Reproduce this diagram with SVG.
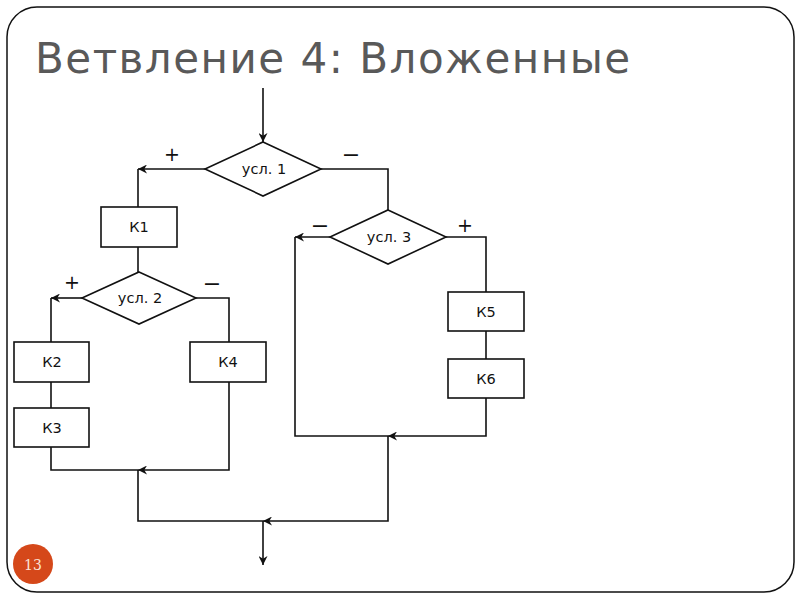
<svg xmlns="http://www.w3.org/2000/svg" width="800" height="600" viewBox="0 0 800 600">
<style>
.box{fill:#fff;stroke:#111;stroke-width:1.6}
.ln{fill:none;stroke:#111;stroke-width:1.6}
.lbl{font-family:"DejaVu Sans",sans-serif;font-size:14.5px;fill:#111;text-anchor:middle}
.sg{font-family:"DejaVu Sans",sans-serif;font-size:19px;fill:#111;text-anchor:middle}
.mn{font-family:"Liberation Sans",sans-serif;font-size:25px;fill:#111;text-anchor:middle}
</style>
<defs>
<marker id="ah" viewBox="0 0 10 10" refX="10" refY="5" markerWidth="9" markerHeight="9" markerUnits="userSpaceOnUse" orient="auto">
<path d="M0,0 L10,5 L0,10 L3,5 Z" fill="#111"/>
</marker>
</defs>
<rect x="0" y="0" width="800" height="600" fill="#fff"/>
<rect x="7" y="7" width="787" height="585" rx="30" ry="30" fill="#fff" stroke="#111" stroke-width="1.5"/>
<text x="35" y="73" font-family="DejaVu Sans, sans-serif" font-size="42" letter-spacing="1.5" fill="#595959">Ветвление 4: Вложенные</text>

<g id="connectors">
<path class="ln" d="M263,88 V142" marker-end="url(#ah)"/>
<path class="ln" d="M205,169 H138" marker-end="url(#ah)"/>
<path class="ln" d="M138,169 V207"/>
<path class="ln" d="M321,169 H388 V210"/>
<path class="ln" d="M138,247 V272"/>
<path class="ln" d="M82,298 H51" marker-end="url(#ah)"/>
<path class="ln" d="M51,298 V342"/>
<path class="ln" d="M196,298 H229 V342"/>
<path class="ln" d="M51,382 V408"/>
<path class="ln" d="M51,447 V470 H138"/>
<path class="ln" d="M229,382 V470 H138" marker-end="url(#ah)"/>
<path class="ln" d="M330,237 H295" marker-end="url(#ah)"/>
<path class="ln" d="M295,237 V436 H388"/>
<path class="ln" d="M446,237 H486 V292"/>
<path class="ln" d="M486,331 V359"/>
<path class="ln" d="M486,398 V436 H388" marker-end="url(#ah)"/>
<path class="ln" d="M138,470 V521 H263"/>
<path class="ln" d="M388,436 V521 H263" marker-end="url(#ah)"/>
<path class="ln" d="M263,521 V565" marker-end="url(#ah)"/>
</g>

<g id="cond1"><polygon class="box" points="263,142 321,169 263,196 205,169"/><text class="lbl" x="264" y="174">усл. 1</text></g>
<g id="cond3"><polygon class="box" points="388,210 446,237 388,264 330,237"/><text class="lbl" x="389" y="242">усл. 3</text></g>
<g id="cond2"><polygon class="box" points="139,272 196,298 139,324 82,298"/><text class="lbl" x="140" y="303">усл. 2</text></g>
<g id="k1"><rect class="box" x="101" y="207" width="76" height="40"/><text class="lbl" x="139" y="232">К1</text></g>
<g id="k2"><rect class="box" x="14" y="342" width="75" height="40"/><text class="lbl" x="52" y="367">К2</text></g>
<g id="k3"><rect class="box" x="14" y="408" width="75" height="39"/><text class="lbl" x="52" y="433">К3</text></g>
<g id="k4"><rect class="box" x="190" y="342" width="76" height="40"/><text class="lbl" x="228" y="367">К4</text></g>
<g id="k5"><rect class="box" x="448" y="292" width="76" height="39"/><text class="lbl" x="486" y="317">К5</text></g>
<g id="k6"><rect class="box" x="448" y="359" width="76" height="39"/><text class="lbl" x="486" y="384">К6</text></g>

<g id="signs">
<text class="sg" x="172" y="161">+</text>
<text class="mn" x="351" y="162">–</text>
<text class="mn" x="320" y="233">–</text>
<text class="sg" x="465" y="232">+</text>
<text class="sg" x="72" y="289">+</text>
<text class="mn" x="212" y="291">–</text>
</g>

<g id="pagenum">
<circle cx="33" cy="564" r="20" fill="#D5481A"/>
<text x="33" y="569.5" font-family="DejaVu Serif, serif" font-size="14" fill="#fbe3d6" text-anchor="middle">13</text>
</g>
</svg>
